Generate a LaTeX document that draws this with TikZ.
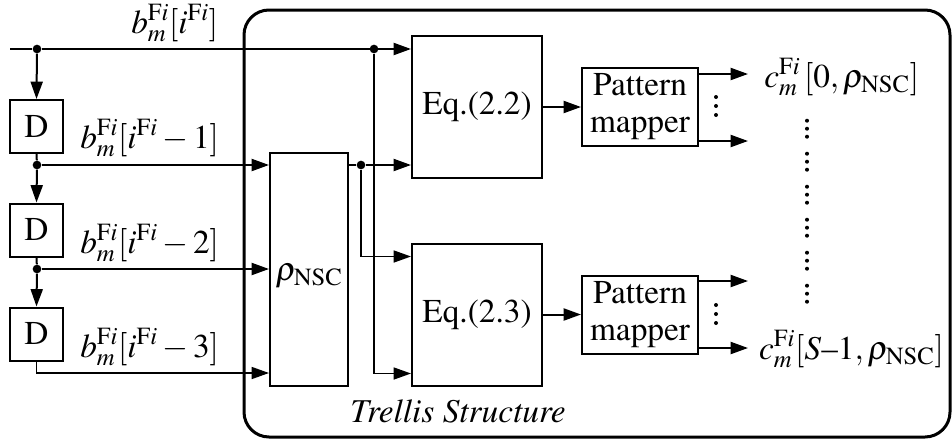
\documentclass[tikz,border=0pt]{standalone}
\usepackage[T1]{fontenc}
\usepackage{mathptmx}
\usetikzlibrary{arrows.meta}
\begin{document}
\begin{tikzpicture}[x=0.75pt,y=-0.75pt,
  font=\fontsize{25}{29}\selectfont,
  box/.style={draw, line width=1.5pt, inner sep=0pt, align=center},
  wire/.style={line width=1.5pt},
  thinwire/.style={line width=1.1pt},
  arr/.style={-{Triangle[length=13pt,width=9pt]}},
  jdot/.style={circle, fill, inner sep=0pt, minimum size=6.5pt},
]
\useasboundingbox (0,0) rectangle (952,439);

% container
\node[draw, line width=2.25pt, rounded corners=18.75pt, minimum width=529.5pt, minimum height=320.25pt, inner sep=0pt] (trellis) at (597,223.5) {};

% blocks
\node[box, minimum width=39.75pt, minimum height=39.75pt] (d1) at (36.5,126.5) {D};
\node[box, minimum width=39.75pt, minimum height=39.75pt] (d2) at (36.5,230) {D};
\node[box, minimum width=39.75pt, minimum height=39.75pt] (d3) at (36.5,334) {D};
\node[box, minimum width=58.5pt, minimum height=174.75pt] (rho) at (309,269.5) {};
\node[box, minimum width=97.5pt, minimum height=106.5pt] (eq22) at (477,107) {Eq.(2.2)};
\node[box, minimum width=97.5pt, minimum height=106.5pt] (eq23) at (477,314.5) {Eq.(2.3)};
\node[box, minimum width=87pt, minimum height=58.5pt] (pm1) at (640,107) {Pattern\\[-1pt]mapper};
\node[box, minimum width=87pt, minimum height=58.5pt] (pm2) at (640,315) {Pattern\\[-1pt]mapper};

% junctions
\coordinate (start) at (10,49);
\node[jdot] (j0) at (37,49) {};
\node[jdot] (j1) at (37,165) {};
\node[jdot] (j2) at (37,269) {};
\node[jdot] (j3) at (361,165) {};
\node[jdot] (j4) at (374,49) {};

% wires on the left
\draw[wire] (start) -- (j0);
\draw[wire,arr] (j0) -- (j0 -| eq22.west);
\draw[wire,arr] (j0) -- (d1.north);
\draw[wire] (d1.south) -- (j1);
\draw[wire,arr] (j1) -- (d2.north);
\draw[wire,arr] (j1) -- (j1 -| rho.west);
\draw[wire] (d2.south) -- (j2);
\draw[wire,arr] (j2) -- (d3.north);
\draw[wire,arr] (j2) -- (j2 -| rho.west);
\draw[thinwire,arr] (d3.south) |- ([yshift=10.5pt]rho.south west);

% rho outputs
\draw[wire] (j1 -| rho.east) -- (j3);
\draw[wire,arr] (j3) -- (j3 -| eq22.west);
\draw[thinwire,arr] (j3) |- ([yshift=-10.5pt]eq23.north west);
\draw[thinwire,arr] (j4) |- ([yshift=9.75pt]eq23.south west);

% eq to mappers
\draw[wire,arr] (eq22.east) -- (eq22.east -| pm1.west);
\draw[wire,arr] (eq23.east) -- (eq23.east -| pm2.west);

% mapper outputs
\draw[wire,arr] ([yshift=-5.25pt]pm1.north east) -- ++(49,0) coordinate (o1);
\draw[wire,arr] ([yshift=4.5pt]pm1.south east) -- ++(49,0) coordinate (o2);
\draw[wire,arr] ([yshift=-4.5pt]pm2.north east) -- ++(49,0) coordinate (o3);
\draw[wire,arr] ([yshift=5.25pt]pm2.south east) -- ++(49,0) coordinate (o4);

% small vertical dots
\foreach \yy in {97,106,115,305,314,323} \fill (716,\yy) circle (1.5pt);
\foreach \g in {0,...,5} \foreach \k in {0,1,2} \fill (807,120.7+33*\g+8*\k) circle (1.5pt);

% labels
\node[anchor=base west, inner sep=0pt] (lb0) at (131,33) {$b_m^{\mathrm{F}i}[i^{\mathrm{F}i}]$};
\node[anchor=base west, inner sep=0pt] (lb1) at (80,148) {$b_m^{\mathrm{F}i}[i^{\mathrm{F}i}-1]$};
\node[anchor=base west, inner sep=0pt] (lb2) at (80,253) {$b_m^{\mathrm{F}i}[i^{\mathrm{F}i}-2]$};
\node[anchor=base west, inner sep=0pt] (lb3) at (80,357) {$b_m^{\mathrm{F}i}[i^{\mathrm{F}i}-3]$};
\node[anchor=base, inner sep=0pt] (rholbl) at (309,280) {$\rho_{\mathrm{NSC}}$};
\node[anchor=base west, inner sep=0pt] (c1) at (764,87) {$c_m^{\mathrm{F}i}\,[0, \rho_{\mathrm{NSC}}]$};
\node[anchor=base east, inner sep=0pt] (c2) at (944,359) {$c_m^{\mathrm{F}i}[S\mbox{--}1, \rho_{\mathrm{NSC}}]$};
\node[anchor=base, inner sep=0pt] (tl) at (458,422) {\textit{Trellis Structure}};
\end{tikzpicture}
\end{document}
